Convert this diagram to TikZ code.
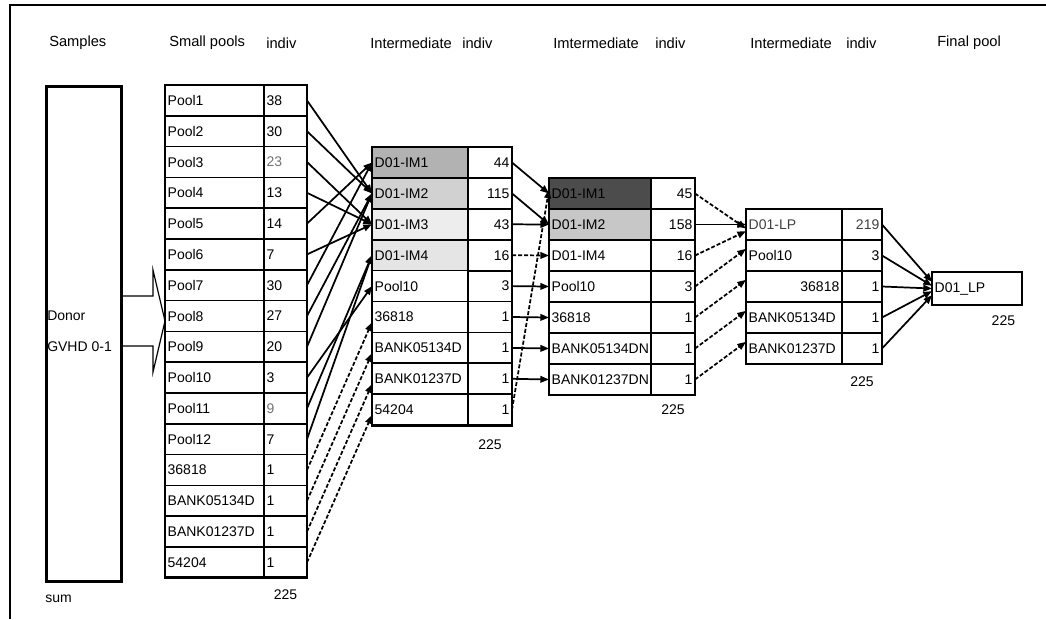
\documentclass[tikz,border=0pt]{standalone}
\usepackage{fontspec}
\setmainfont{Liberation Sans}
\usetikzlibrary{arrows.meta, positioning}

\newcommand{\cellfont}{\fontsize{10.5}{12.5}\selectfont}
\newcommand{\headfont}{\fontsize{11}{13}\selectfont}

\begin{document}
\begin{tikzpicture}[
      x = 0.75pt, y = -0.75pt,
      font = \cellfont,
      cell/.style={
        draw,
        line width = 1.3pt,
        outer sep = 0pt,
        inner xsep = 2pt,
        inner ysep = 0pt,
        anchor = north west,
        align = left,
      },
      frame/.style={
        line width = 2.2pt,
      },
      head/.style={
        font = \headfont,
        anchor = west,
        inner sep = 0pt,
      },
      sumlabel/.style={
        inner sep = 0pt,
      },
      link/.style={
        -{Triangle[length = 6.5pt, width = 5pt]},
        line width = 1.3pt,
      },
      dlink/.style={
        link,
        dash pattern = on 3pt off 1.5pt,
      },
    ]
    \useasboundingbox (0,0) rectangle (1046,619);
    \draw[line width = 2.2pt] (1046,5) -- (10,5) -- (10,619);

    % column titles
    \node[head] (h-samples) at (49,43) {Samples};
    \node[head] (h-small) at (169,43) {Small pools};
    \node[head] (h-indiv1) at (266,43) {indiv};
    \node[head] (h-inter1) at (370,43) {Intermediate};
    \node[head] (h-indiv2) at (462,43) {indiv};
    \node[head] (h-inter2) at (553,43) {Imtermediate};
    \node[head] (h-indiv3) at (655,43) {indiv};
    \node[head] (h-inter3) at (750,43) {Intermediate};
    \node[head] (h-indiv4) at (846,43) {indiv};
    \node[head] (h-final) at (937,43) {Final pool};

    % donor sample
    \draw[line width = 0.9pt]
      (120,296) -- (153,296) -- (153,270) -- (165,321)
      -- (153,372) -- (153,346) -- (120,346);
    \node[draw, line width = 2.2pt, anchor = north west,
      minimum width = 56.25pt, minimum height = 371.25pt] (samples) at (45,85) {};
    \node[anchor = west, inner sep = 0pt] (donor) at (47,316) {Donor};
    \node[anchor = west, inner sep = 0pt] (gvhd) at (47,347) {GVHD 0-1};
    \node[sumlabel, below right = 9pt and 0pt of samples.south west] (sum) {sum};

    % small pools
    \foreach \nm/\val/\tc [count=\i] in {Pool1/38/black, Pool2/30/black,
        Pool3/23/black!55, Pool4/13/black, Pool5/14/black, Pool6/7/black,
        Pool7/30/black, Pool8/27/black, Pool9/20/black, Pool10/3/black,
        Pool11/9/black!55, Pool12/7/black, 36818/1/black,
        BANK05134D/1/black, BANK01237D/1/black, 54204/1/black} {
      \node[cell, text width = 70.25pt, minimum height = 23.1pt]
        (sp\i) at (165, {85 + 30.8*(\i-1)}) {\nm};
      \node[cell, text width = 28.25pt, minimum height = 23.1pt, text = \tc,
        right = 0pt of sp\i] (spv\i) {\val};
    }
    \draw[frame] (sp1.north west) rectangle (spv16.south east);
    \node[sumlabel, below = 9pt of spv16] (sum1) {225};

    % first intermediate pools
    \foreach \nm/\val/\fc [count=\i] in {D01-IM1/44/black!30,
        D01-IM2/115/black!18, D01-IM3/43/black!7, D01-IM4/16/black!10,
        Pool10/3/white, 36818/1/white, BANK05134D/1/white,
        BANK01237D/1/white, 54204/1/white} {
      \node[cell, text width = 68pt, minimum height = 23.25pt, fill = \fc]
        (ia\i) at (372, {147 + 30.9*(\i-1)}) {\nm};
      \node[cell, text width = 29pt, minimum height = 23.25pt, align = right,
        right = 0pt of ia\i] (iav\i) {\val};
    }
    \draw[frame] (ia1.north west) rectangle (iav9.south east);
    \node[sumlabel, below = 11pt of iav9] (sum2) {225};

    % second intermediate pools
    \foreach \nm/\val/\fc [count=\i] in {D01-IM1/45/black!70,
        D01-IM2/158/black!22, D01-IM4/16/white, Pool10/3/white,
        36818/1/white, BANK05134DN/1/white, BANK01237DN/1/white} {
      \node[cell, text width = 72.5pt, minimum height = 23.25pt, fill = \fc]
        (ib\i) at (549, {178 + 31*(\i-1)}) {\nm};
      \node[cell, text width = 29pt, minimum height = 23.25pt, align = right,
        right = 0pt of ib\i] (ibv\i) {\val};
    }
    \draw[frame] (ib1.north west) rectangle (ibv7.south east);
    \draw[frame] (ib6.north west) -- (ibv6.north east);
    \node[sumlabel, below = 7pt of ibv7] (sum3) {225};

    % third intermediate pools
    \foreach \nm/\val/\al/\tc [count=\i] in {D01-LP/219/left/black!75,
        Pool10/3/left/black, 36818/1/right/black,
        BANK05134D/1/left/black, BANK01237D/1/left/black} {
      \node[cell, text width = 68pt, minimum height = 23.25pt, align = \al,
        text = \tc] (ic\i) at (746, {209 + 31*(\i-1)}) {\nm};
      \node[cell, text width = 26pt, minimum height = 23.25pt, align = right,
        text = \tc, right = 0pt of ic\i] (icv\i) {\val};
    }
    \draw[frame] (ic1.north west) rectangle (icv5.south east);
    \draw[frame] (ic3.north west) -- (icv3.north east);
    \draw[frame] (ic5.north west) -- (icv5.north east);
    \node[sumlabel, below = 9pt of icv5] (sum4) {225};

    % final pool
    \node[cell, line width = 2.2pt, text width = 63.5pt, minimum height = 24.75pt]
      (fp) at (932,272) {D01\_LP};
    \node[sumlabel, below left = 8pt and 5pt of fp.south east] (sum5) {225};

    % pooling steps
    \foreach \s/\t in {1/2, 2/2, 3/3, 4/3, 5/1, 6/3, 7/1, 8/2, 9/2,
        10/5, 11/4, 12/4}
      \draw[link] (spv\s.east) -- (ia\t.west);
    \foreach \s/\t in {13/6, 14/7, 15/8, 16/9}
      \draw[dlink] (spv\s.east) -- ([yshift = -4pt]ia\t.west);

    \foreach \s/\t in {1/1, 2/2, 3/2, 5/4, 6/5, 7/6, 8/7}
      \draw[link] (iav\s.east) -- (ib\t.west);
    \draw[dlink] (iav4.east) -- (ib3.west);
    \draw[dlink] (iav9.east) -- ([yshift = 3pt]ib1.west);

    \draw[link] (ibv2.east) -- (ic1.west);
    \draw[dlink] (ibv1.east) -- ([yshift = -3pt]ic1.west);
    \draw[dlink] (ibv3.east) -- ([yshift = -5pt]ic1.west);
    \foreach \s/\t in {4/2, 5/3, 6/4, 7/5}
      \draw[dlink] (ibv\s.east) -- ([yshift = 5pt]ic\t.west);

    \draw[link] (icv1.east) -- ([yshift = 5pt]fp.west);
    \draw[link] (icv2.east) -- ([yshift = 2pt]fp.west);
    \draw[link] (icv3.east) -- (fp.west);
    \draw[link] (icv4.east) -- ([yshift = -2pt]fp.west);
    \draw[link] (icv5.east) -- ([yshift = -5pt]fp.west);
  \end{tikzpicture}
\end{document}
